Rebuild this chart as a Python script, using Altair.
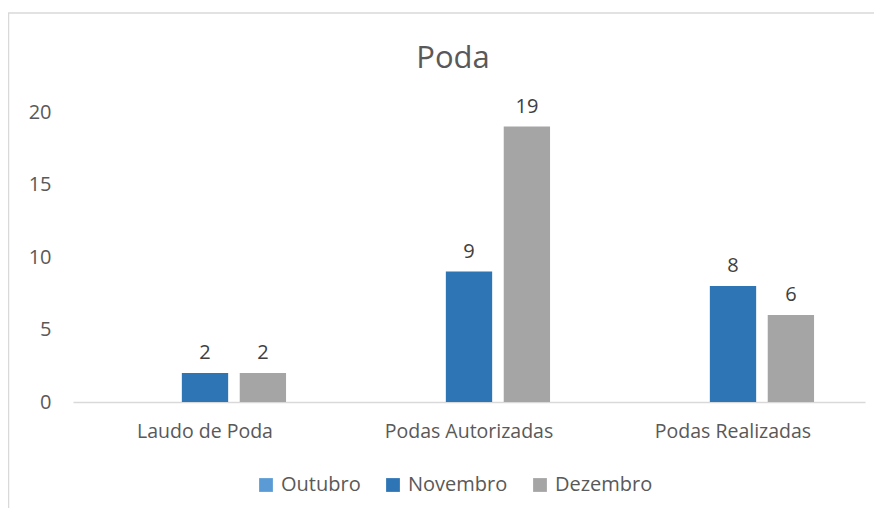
import altair as alt
import pandas as pd

categories = ["Laudo de Poda", "Podas Autorizadas", "Podas Realizadas"]
months = ["Outubro", "Novembro", "Dezembro"]
outubro = [None, None, None]
novembro = [2, 9, 8]
dezembro = [2, 19, 6]
colors = ["#5B9BD5", "#2E75B6", "#A5A5A5"]
title_text = "Poda"

rows = []
for m, vals in zip(months, [outubro, novembro, dezembro]):
    for c, v in zip(categories, vals):
        rows.append({"Categoria": c, "Mês": m, "Valor": v})
df = pd.DataFrame(rows)

FONT = "Open Sans"
TXT = "#595959"

x = alt.X("Categoria:N", sort=categories, title=None,
          scale=alt.Scale(paddingInner=0.386, paddingOuter=0.193),
          axis=alt.Axis(labelAngle=0, domainColor="#D9D9D9", domainWidth=1.5, ticks=False,
                        labelPadding=20, labelFontSize=19.5, labelColor=TXT, labelFont=FONT))
xo = alt.XOffset("Mês:N", sort=months, scale=alt.Scale(paddingInner=0.2, paddingOuter=0))
y = alt.Y("Valor:Q", title=None, scale=alt.Scale(domain=[0, 20], nice=False),
          axis=alt.Axis(values=[0, 5, 10, 15, 20], grid=False, domain=False, ticks=False,
                        labelPadding=22, labelFontSize=20, labelColor=TXT, labelFont=FONT))
color = alt.Color("Mês:N", sort=months, scale=alt.Scale(domain=months, range=colors),
                  legend=alt.Legend(title=None, orient="none", direction="horizontal",
                                    legendX=183, legendY=363, symbolType="square",
                                    symbolSize=190, symbolStrokeWidth=0, labelFontSize=20,
                                    labelColor=TXT, labelFont=FONT, columnPadding=22,
                                    labelOffset=5))

base = alt.Chart(df)
bars = base.mark_bar().encode(x=x, xOffset=xo, y=y, color=color)
labels = base.mark_text(baseline="bottom", dy=-10, fontSize=20, color="#404040", font=FONT).encode(
    x=x, xOffset=xo, y=y, text=alt.Text("Valor:Q", format="d"))
frame = alt.Chart(pd.DataFrame({"a": [0]})).mark_rect(
    fill=None, stroke="#D9D9D9", strokeWidth=1.5).encode(
    x=alt.value(-64.5), x2=alt.value(900), y=alt.value(-99), y2=alt.value(500))
title = alt.Chart(pd.DataFrame({"t": [title_text]})).mark_text(
    fontSize=31, font=FONT, color=TXT, baseline="middle", align="center").encode(
    x=alt.value(380), y=alt.value(-53), text="t:N")

chart = alt.layer(frame, bars, labels, title).properties(
    width=792, height=290,
    autosize=alt.AutoSizeParams(type="none"),
    padding={"left": 65, "top": 104, "right": 9, "bottom": 106},
).configure(background="white").configure_view(stroke=None)

chart.save("out.html", embed_options={"renderer": "svg", "actions": False})
